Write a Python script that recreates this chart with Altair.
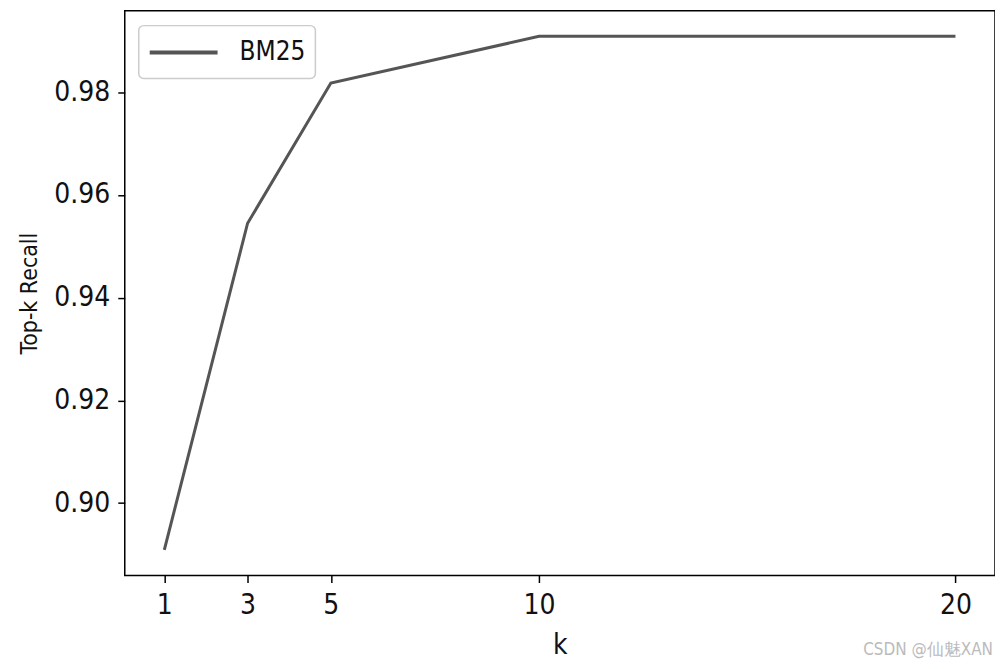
import altair as alt
import pandas as pd

k_values = [1, 3, 5, 10, 20]
recall = [0.8909, 0.9545, 0.9818, 0.9909, 0.9909]
series = ["BM25"] * len(k_values)
x_ticks = [1, 3, 5, 10, 20]
y_ticks = [0.90, 0.92, 0.94, 0.96, 0.98]

df = pd.DataFrame({"k": k_values, "recall": recall, "method": series})
legend_df = pd.DataFrame({"method": ["BM25"]})

FONT = "DejaVu Sans Condensed, Roboto Condensed, Liberation Sans Narrow, Roboto, sans-serif"
LINE_COLOR = "#555555"

line = alt.Chart(df).mark_line(color=LINE_COLOR, strokeWidth=3).encode(
    x=alt.X("k:Q", scale=alt.Scale(domain=[0.05, 20.95], nice=False, zero=False),
            axis=alt.Axis(values=x_ticks, title="k", format="d", labelPadding=9, titlePadding=12,
                          titleFontSize=28)),
    y=alt.Y("recall:Q", scale=alt.Scale(domain=[0.8859, 0.9959], nice=False, zero=False),
            axis=alt.Axis(values=y_ticks, title="Top-k Recall", format=".2f", labelPadding=8,
                          titlePadding=12, titleFontSize=23)),
)

leg_box = alt.Chart(legend_df).mark_rect(
    fill="white", stroke="#cccccc", strokeWidth=1.5, cornerRadius=5
).encode(x=alt.value(14), x2=alt.value(191), y=alt.value(15), y2=alt.value(68))
leg_line = alt.Chart(legend_df).mark_rule(color=LINE_COLOR, strokeWidth=4).encode(
    x=alt.value(25), x2=alt.value(93), y=alt.value(42))
leg_text = alt.Chart(legend_df).mark_text(
    align="left", baseline="middle", fontSize=26, font=FONT, color="#111111"
).encode(x=alt.value(115), y=alt.value(41), text="method:N")

wm = alt.Chart(pd.DataFrame({"t": ["CSDN @仙魅XAN"]})).mark_text(
    align="right", baseline="middle", fontSize=17, color="#bbbbbb",
    font="DejaVu Sans Condensed, sans-serif"
).encode(x=alt.value(870), y=alt.value(641), text="t:N")

chart = alt.layer(line, leg_box, leg_line, leg_text, wm).properties(
    width=872, height=566,
    autosize=alt.AutoSizeParams(type="none"),
    padding={"left": 117, "top": 2, "right": 0, "bottom": 84},
).configure_view(stroke="black", strokeWidth=1.5).configure_axis(
    grid=False, domain=False, tickColor="black", tickSize=7, tickWidth=1.5,
    labelFont=FONT, labelFontSize=28, labelColor="#111",
    titleFont=FONT, titleFontWeight="normal", titleColor="#111",
)

chart.save("out.html", embed_options={"renderer": "svg", "actions": False})
